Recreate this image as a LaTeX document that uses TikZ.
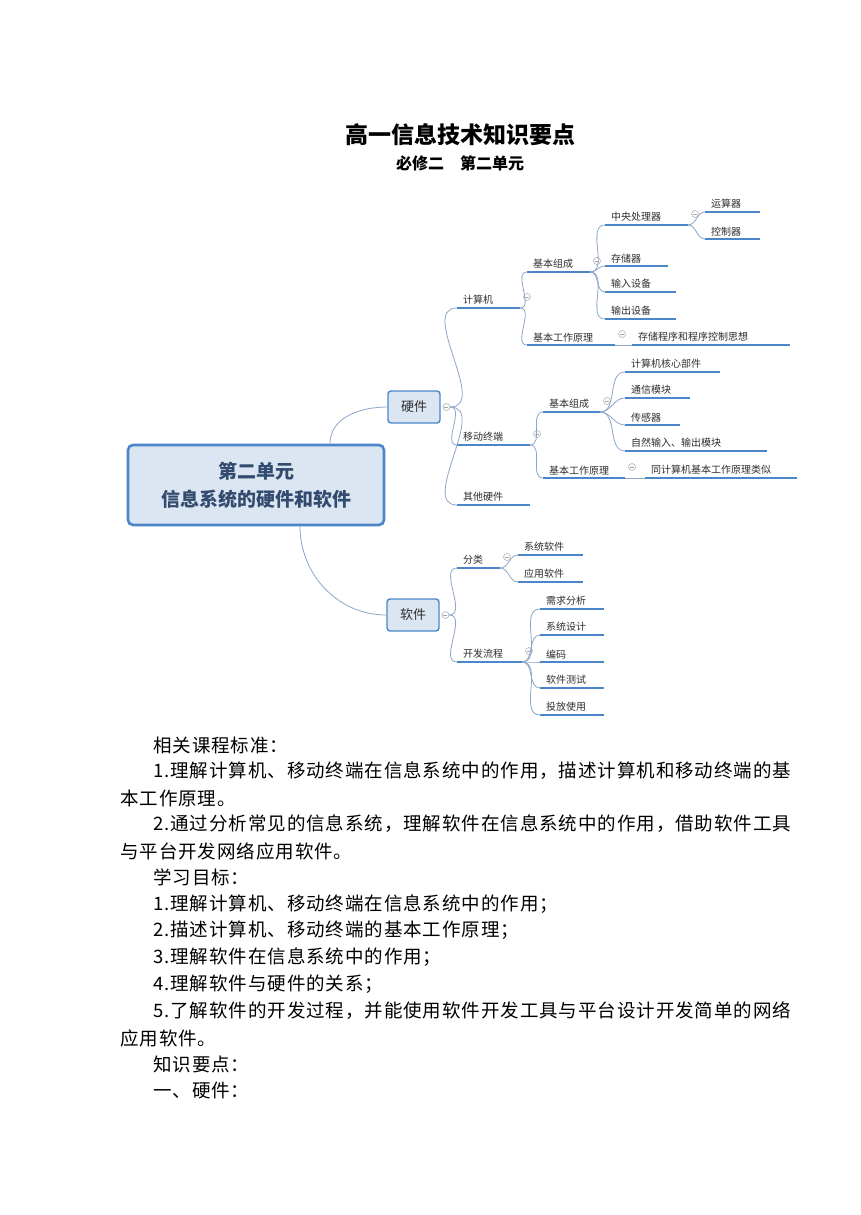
\documentclass[tikz,border=0pt]{standalone}
\usepackage{fontspec}
\setmainfont{Noto Sans CJK SC}
\usetikzlibrary{positioning}
\definecolor{mapblue}{RGB}{74, 134, 200}
\definecolor{linkgray}{RGB}{140, 165, 200}
\definecolor{boxfill}{RGB}{220, 230, 242}
\definecolor{boxtext}{RGB}{50, 75, 110}
\definecolor{maptext}{RGB}{45, 45, 45}
\tikzset{
  leafline/.style={mapblue, line width=1.6pt},
  leaftext/.style={anchor=south west, inner sep=0pt, text=maptext, font=\fontsize{10}{12}\selectfont},
  foldmark/.style={draw=gray!70, line width=0.5pt, circle, minimum size=7pt, inner sep=0pt},
  conn/.style={linkgray, line width=0.8pt},
  bodyline/.style={anchor=west, inner sep=0pt, font=\fontsize{18.5}{20}\selectfont\addfontfeature{LetterSpace=5}}
}
\newcommand{\leaf}[5]{%
  \draw[leafline] (#2,#4) coordinate (#1-w) -- (#3,#4) coordinate (#1-e);
  \node[leaftext] (#1) at (#2+6,#4-3) {#5};}
\newcommand{\fold}[3]{%
  \node[foldmark] (#1-f) at (#2+7,#3-11) {};
  \draw[gray!70, line width=0.5pt] (#1-f.west) ++(1.5pt,0) -- ++(4pt,0);}
\begin{document}
\begin{tikzpicture}[x=1pt, y=-1pt]
  \useasboundingbox (0,0) rectangle (860,1215);

  % title
  \node[font=\fontsize{23}{26}\selectfont\bfseries] (title) at (460,135) {高一信息技术知识要点};
  \node[font=\fontsize{16}{18}\selectfont\bfseries] (subtitle) at (460,163) {必修二\quad 第二单元};

  % centre and main branches
  \node[draw=mapblue, line width=2.6pt, fill=boxfill, rounded corners=5pt, minimum width=256pt, minimum height=80pt,
        align=center, text=boxtext, font=\fontsize{19}{28}\selectfont\bfseries] (unit) at (256,485) {第二单元\\信息系统的硬件和软件};
  \node[draw=mapblue, line width=1.4pt, fill=boxfill, rounded corners=3pt, minimum width=52pt, minimum height=32pt,
        text=maptext, font=\fontsize{13}{15}\selectfont] (hw) at (414,407) {硬件};
  \node[draw=mapblue, line width=1.4pt, fill=boxfill, rounded corners=3pt, minimum width=52pt, minimum height=32pt,
        text=maptext, font=\fontsize{13}{15}\selectfont] (sw) at (413,615) {软件};
  \node[foldmark, right=2pt of hw] (hw-f) {};
  \draw[gray!70, line width=0.5pt] (hw-f.west) ++(1.5pt,0) -- ++(4pt,0);
  \node[foldmark, right=2pt of sw] (sw-f) {};
  \draw[gray!70, line width=0.5pt] (sw-f.west) ++(1.5pt,0) -- ++(4pt,0);
  \draw[conn] (unit.north) ++(74,0) to[out=90, in=180] (hw.west);
  \draw[conn] (unit.south) ++(44,0) to[out=-90, in=180] (sw.west);

  % hardware
  \leaf{pc}{457}{520}{308}{计算机} \fold{pc}{520}{308}
  \leaf{mob}{457}{530}{445}{移动终端} \fold{mob}{530}{445}
  \leaf{oth}{457}{530}{505}{其他硬件}
  \leaf{pcpart}{527}{590}{272}{基本组成} \fold{pcpart}{590}{272}
  \leaf{pcprin}{527}{615}{345}{基本工作原理} \fold{pcprin}{615}{345}
  \leaf{cpu}{605}{688}{225}{中央处理器} \fold{cpu}{688}{225}
  \leaf{mem}{605}{668}{266}{存储器}
  \leaf{inp}{605}{676}{292}{输入设备}
  \leaf{outp}{605}{676}{319}{输出设备}
  \leaf{alu}{705}{760}{212}{运算器}
  \leaf{ctl}{705}{760}{239}{控制器}
  \leaf{stored}{632}{790}{345}{存储程序和程序控制思想}
  \leaf{mobpart}{543}{600}{412}{基本组成} \fold{mobpart}{600}{412}
  \leaf{mobprin}{543}{625}{478}{基本工作原理} \fold{mobprin}{625}{478}
  \leaf{core}{625}{720}{372}{计算机核心部件}
  \leaf{comm}{625}{690}{398}{通信模块}
  \leaf{sens}{625}{680}{425}{传感器}
  \leaf{nio}{625}{767}{451}{自然输入、输出模块}
  \leaf{same}{645}{797}{478}{同计算机基本工作原理类似}

  \foreach \c in {pc, mob, oth} \draw[conn] (hw-f.east) to[out=0, in=180] (\c-w);
  \foreach \c in {pcpart, pcprin} \draw[conn] (pc-e) to[out=0, in=180] (\c-w);
  \foreach \c in {cpu, mem, inp, outp} \draw[conn] (pcpart-e) to[out=0, in=180] (\c-w);
  \foreach \c in {alu, ctl} \draw[conn] (cpu-e) to[out=0, in=180] (\c-w);
  \draw[conn] (pcprin-e) -- (stored-w);
  \foreach \c in {mobpart, mobprin} \draw[conn] (mob-e) to[out=0, in=180] (\c-w);
  \foreach \c in {core, comm, sens, nio} \draw[conn] (mobpart-e) to[out=0, in=180] (\c-w);
  \draw[conn] (mobprin-e) -- (same-w);

  % software
  \leaf{kind}{457}{500}{568}{分类} \fold{kind}{500}{568}
  \leaf{dev}{457}{522}{662}{开发流程} \fold{dev}{522}{662}
  \leaf{sys}{518}{583}{555}{系统软件}
  \leaf{app}{518}{583}{582}{应用软件}
  \leaf{req}{540}{604}{609}{需求分析}
  \leaf{des}{540}{604}{635}{系统设计}
  \leaf{code}{540}{604}{662}{编码}
  \leaf{test}{540}{604}{688}{软件测试}
  \leaf{use}{540}{604}{715}{投放使用}
  \foreach \c in {kind, dev} \draw[conn] (sw-f.east) to[out=0, in=180] (\c-w);
  \foreach \c in {sys, app} \draw[conn] (kind-e) to[out=0, in=180] (\c-w);
  \foreach \c in {req, des, code, test, use} \draw[conn] (dev-e) to[out=0, in=180] (\c-w);

  % body text
  \node[bodyline] (t1) at (153,745) {相关课程标准：};
  \node[bodyline] (t2) at (153,771) {1.理解计算机、移动终端在信息系统中的作用，描述计算机和移动终端的基};
  \node[bodyline] (t3) at (120,798) {本工作原理。};
  \node[bodyline] (t4) at (153,824) {2.通过分析常见的信息系统，理解软件在信息系统中的作用，借助软件工具};
  \node[bodyline] (t5) at (120,851) {与平台开发网络应用软件。};
  \node[bodyline] (t6) at (153,877) {学习目标：};
  \node[bodyline] (t7) at (153,904) {1.理解计算机、移动终端在信息系统中的作用；};
  \node[bodyline] (t8) at (153,930) {2.描述计算机、移动终端的基本工作原理；};
  \node[bodyline] (t9) at (153,957) {3.理解软件在信息系统中的作用；};
  \node[bodyline] (t10) at (153,984) {4.理解软件与硬件的关系；};
  \node[bodyline] (t11) at (153,1011) {5.了解软件的开发过程，并能使用软件开发工具与平台设计开发简单的网络};
  \node[bodyline] (t12) at (120,1038) {应用软件。};
  \node[bodyline] (t13) at (153,1064) {知识要点：};
  \node[bodyline] (t14) at (153,1091) {一、硬件：};
\end{tikzpicture}
\end{document}
